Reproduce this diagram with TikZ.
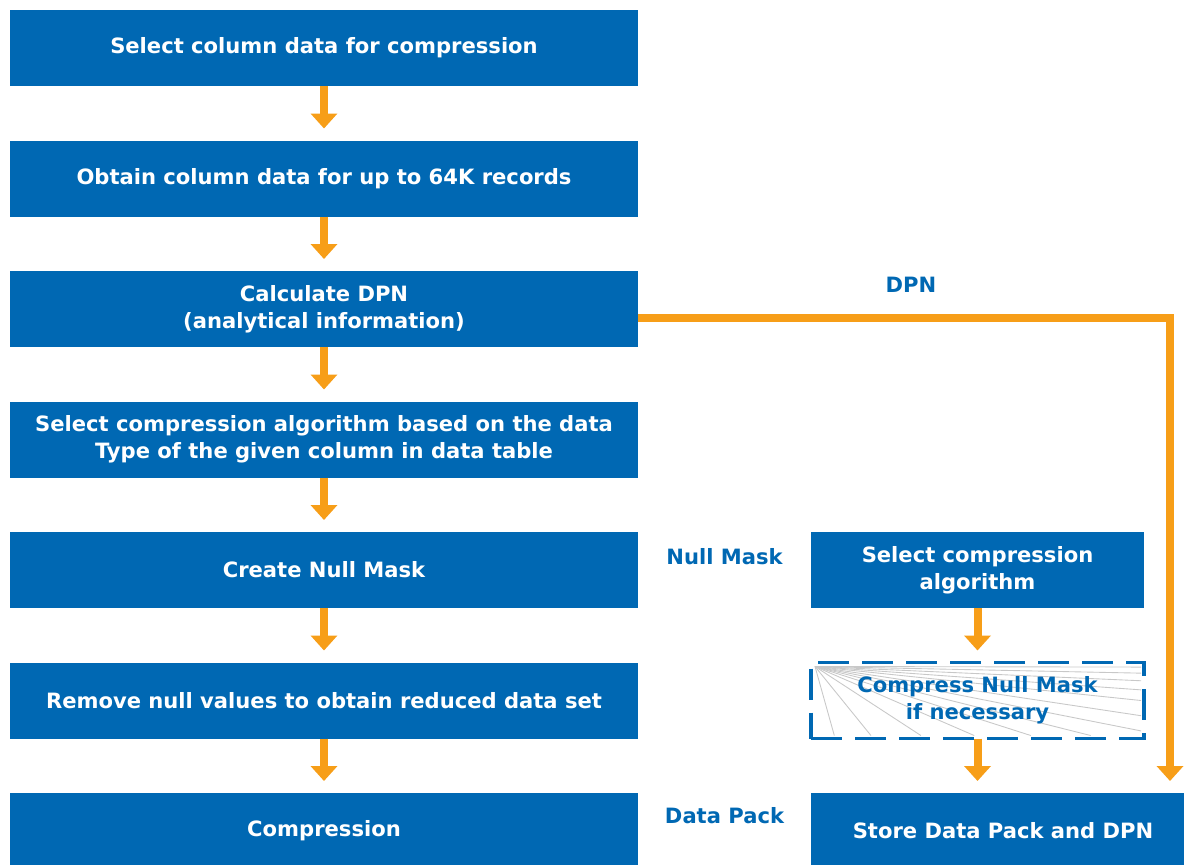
\documentclass[tikz,border=0pt]{standalone}
\usepackage{fontspec}
\setmainfont{DejaVu Sans}
\usetikzlibrary{arrows.meta, positioning, calc}
\definecolor{boxblue}{RGB}{0,104,179}
\definecolor{floworange}{RGB}{247,158,24}
\definecolor{hatchgray}{RGB}{200,200,200}

\begin{document}
\begin{tikzpicture}[
  >={Triangle[width=0.52cm, length=0.3cm]},
  stage/.style = {fill=boxblue, text=white, align=center, inner sep=0pt, outer sep=0pt,
                  font=\bfseries\fontsize{12}{15.4}\selectfont,
                  minimum height=1.52cm, minimum width=12.56cm},
  side/.style  = {stage, minimum width=6.66cm},
  flow/.style  = {->, floworange, line width=0.16cm, shorten >=0.24cm},
  tag/.style   = {text=boxblue, font=\bfseries\fontsize{12}{13}\selectfont},
]
  \path[use as bounding box, clip] (0,0) rectangle (23.68,-17.28);

  % Left column
  \node[stage]                        (pick)  at (6.48,-0.96) {Select column data for compression};
  \node[stage, below=1.09cm of pick]  (fetch) {Obtain column data for up to 64K records};
  \node[stage, below=1.09cm of fetch] (calc)  {Calculate DPN\\(analytical information)};
  \node[stage, below=1.09cm of calc]  (algo)  {Select compression algorithm based on the data\\Type of the given column in data table};
  \node[stage, below=1.09cm of algo]  (mask)  {Create Null Mask};
  \node[stage, below=1.09cm of mask]  (strip) {Remove null values to obtain reduced data set};
  \node[stage, below=1.09cm of strip] (comp)  {Compression};

  % Right column
  \node[side, right=3.46cm of mask]   (malgo) {Select compression\\algorithm};
  \node[side, right=3.46cm of strip, fill=none, text=boxblue,
        draw=boxblue, line width=2pt,
        dash pattern=on 0.62cm off 0.26cm] (mcomp) {};
  \node[side, right=3.46cm of comp, minimum width=7.68cm] (store) {Store Data Pack and DPN};

  % Hatching inside the optional step
  \begin{scope}[hatchgray, line width=0.5pt]
    \coordinate (hc) at ($(mcomp.north west)+(0.08,-0.08)$);
    \foreach \t in {0.07,0.18,0.33,0.49,0.66,0.84}
      \draw (hc) -- ($(mcomp.south west)!\t!(mcomp.south east)+(0,0.06)$);
    \foreach \t in {0.06,0.14,0.24,0.36,0.5,0.7,0.9}
      \draw (hc) -- ($(mcomp.north east)!\t!(mcomp.south east)+(-0.06,0)$);
  \end{scope}
  \node[text=boxblue, align=center, font=\bfseries\fontsize{12}{15.4}\selectfont]
    (mtext) at (mcomp) {Compress Null Mask\\if necessary};

  % Labels
  \node[tag] (ldpn)  at (18.22,-5.7) {DPN};
  \node[tag] (lmask) at ($($(mask.east)!0.5!(malgo.west)$)+(0,0.26)$) {Null Mask};
  \node[tag] (lpack) at ($($(comp.east)!0.5!(store.west)$)+(0,0.3)$) {Data Pack};

  % Main flow
  \draw[flow] (pick)  -- (fetch);
  \draw[flow] (fetch) -- (calc);
  \draw[flow] (calc)  -- (algo);
  \draw[flow] (algo)  -- (mask);
  \draw[flow] (mask)  -- (strip);
  \draw[flow] (strip) -- (comp);

  % Null mask branch
  \draw[flow] (malgo) -- (mcomp);
  \draw[flow] (mcomp.south) -- (mcomp.south |- store.north);

  % DPN branch
  \coordinate (dpnin) at ([xshift=3.34cm]store.north);
  \draw[flow] ([yshift=-0.18cm]calc.east) -| (dpnin);
\end{tikzpicture}
\end{document}
